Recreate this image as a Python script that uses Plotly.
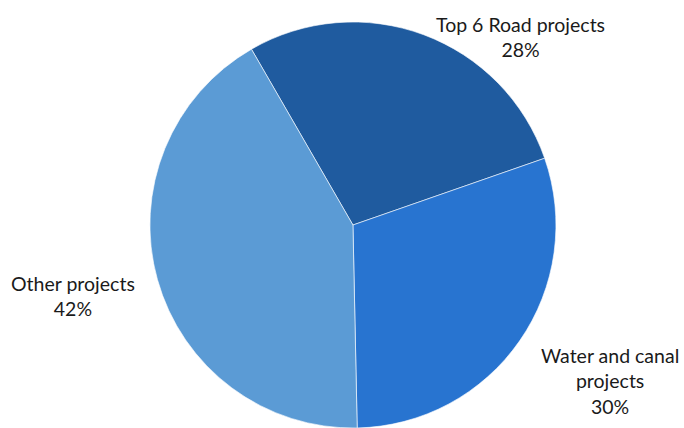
import plotly.graph_objects as go

labels = ["Top 6 Road projects", "Water and canal projects", "Other projects"]
label_text = ["Top 6 Road projects", "Water and canal<br>projects", "Other projects"]
values = [28, 30, 42]
colors = ["#1F5B9F", "#2874D0", "#5B9BD5"]

W, H = 684, 428
MT, MB = 22, 0

def px(x):
    return x / W

def py(y):
    return 1 - (y - MT) / (H - MT - MB)

# label block centers (pixels)
label_pos = [(520, 37), (610, 381), (73, 296)]

fig = go.Figure(go.Pie(
    labels=labels, values=values, sort=False, direction="clockwise",
    rotation=-30, textinfo="none", hoverinfo="label+percent",
    marker=dict(colors=colors, line=dict(color="white", width=0.6)),
    domain=dict(x=[0.2, 0.832], y=[0, 1]),
    showlegend=False,
))

total = sum(values)
for t, v, (x, y) in zip(label_text, values, label_pos):
    fig.add_annotation(
        x=px(x), y=py(y), xref="paper", yref="paper",
        text=f"{t}<br>{round(100 * v / total)}%", showarrow=False,
        font=dict(family="Lato", size=19.5, color="#1a1a1a"),
        align="center", xanchor="center", yanchor="middle",
    )

fig.update_layout(
    width=W, height=H, margin=dict(l=0, r=0, t=MT, b=MB),
    paper_bgcolor="white", plot_bgcolor="white",
)

fig.write_html("out.html")
